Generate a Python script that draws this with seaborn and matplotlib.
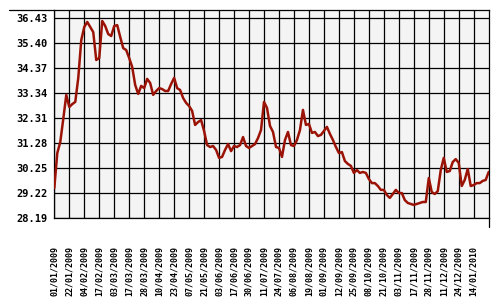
import matplotlib
matplotlib.use("Agg")
import matplotlib.pyplot as plt
import seaborn as sns
import pandas as pd
from matplotlib.lines import Line2D

date_labels = [
    "01/01/2009", "22/01/2009", "04/02/2009", "17/02/2009", "03/03/2009",
    "17/03/2009", "28/03/2009", "10/04/2009", "23/04/2009", "07/05/2009",
    "21/05/2009", "03/06/2009", "17/06/2009", "30/06/2009", "11/07/2009",
    "24/07/2009", "06/08/2009", "19/08/2009", "01/09/2009", "12/09/2009",
    "25/09/2009", "08/10/2009", "21/10/2009", "03/11/2009", "17/11/2009",
    "28/11/2009", "11/12/2009", "24/12/2009", "14/01/2010",
]

y_ticks = [28.19, 29.22, 30.25, 31.28, 32.31, 33.34, 34.37, 35.40, 36.43]

# price sampled every 2 trading days
prices = [
    29.43, 30.87, 31.33, 32.28, 33.27, 32.77, 32.89, 32.98, 33.97, 35.53,
    36.07, 36.28, 36.07, 35.86, 34.71, 34.79, 36.32, 36.11, 35.78, 35.70,
    36.11, 36.15, 35.66, 35.20, 35.12, 34.79, 34.42, 33.68, 33.31, 33.64,
    33.55, 33.93, 33.76, 33.27, 33.43, 33.55, 33.51, 33.43, 33.43, 33.72,
    33.97, 33.55, 33.47, 33.14, 32.94, 32.81, 32.61, 32.03, 32.15, 32.23,
    31.78, 31.20, 31.12, 31.16, 31.00, 30.67, 30.71, 31.00, 31.24, 30.95,
    31.16, 31.12, 31.20, 31.53, 31.16, 31.08, 31.16, 31.24, 31.49, 31.82,
    32.98, 32.73, 31.99, 31.74, 31.12, 31.08, 30.71, 31.41, 31.74, 31.20,
    31.16, 31.41, 31.82, 32.65, 32.03, 32.07, 31.70, 31.74, 31.57, 31.62,
    31.78, 31.95, 31.66, 31.41, 31.12, 30.87, 30.91, 30.54, 30.42, 30.34,
    30.05, 30.17, 30.05, 30.09, 30.05, 29.80, 29.63, 29.63, 29.51, 29.35,
    29.35, 29.14, 29.02, 29.18, 29.35, 29.22, 29.22, 28.93, 28.81, 28.77,
    28.73, 28.77, 28.81, 28.85, 28.85, 29.84, 29.26, 29.18, 29.30, 30.17,
    30.67, 30.09, 30.13, 30.50, 30.62, 30.46, 29.51, 29.76, 30.21, 29.51,
    29.55, 29.63, 29.63, 29.72, 29.76, 30.09,
]

sample_step = 2
tick_every = 10

sns.set_style("white")
plt.rcParams['font.family'] = ['DejaVu Sans Mono', 'DejaVu Sans']

fig = plt.figure(figsize=(5, 3), dpi=100)
ax = fig.add_axes([54.3 / 500, 82 / 300, (488.7 - 54.3) / 500, (218 - 10.3) / 300])

df = pd.DataFrame({"day": [i * sample_step for i in range(len(prices))],
                   "price": prices})
sns.lineplot(data=df, x="day", y="price", ax=ax, color="#9b1306",
             linewidth=1.8, zorder=3)

ax.set_facecolor("#f4f4f4")
ax.set_xlim(0, sample_step * (len(prices) - 1))
ax.set_ylim(28.19, 28.19 + (218 - 10.3) * (36.43 - 28.19) / (218 - 18.3))
ax.set_xticks(list(range(0, tick_every * len(date_labels), tick_every)))
ax.set_xticklabels(date_labels, rotation=90, fontsize=6, fontweight='bold')
ax.set_yticks(y_ticks)
ax.set_yticklabels([f"{v:.2f}" for v in y_ticks], fontsize=7.5, fontweight='bold')
ax.set_axisbelow(True)
ax.grid(True, color='black', linewidth=0.9)
ax.tick_params(axis='x', direction='out', length=5, width=0.9, pad=15,
               color='black', labelcolor='black')
ax.tick_params(axis='y', length=0, pad=4.5, labelcolor='black')
for s in ax.spines.values():
    s.set_visible(True)
    s.set_color('black')
    s.set_linewidth(0.9)
ax.set_xlabel("")
ax.set_ylabel("")

fig.add_artist(Line2D([9 / 500, 54.3 / 500], [1 - 10.3 / 300] * 2,
                      color='black', lw=0.9))
fig.add_artist(Line2D([488.7 / 500] * 2, [1 - 218 / 300, 1 - 227 / 300],
                      color='black', lw=0.9))

fig.savefig("out.png", dpi=100)
